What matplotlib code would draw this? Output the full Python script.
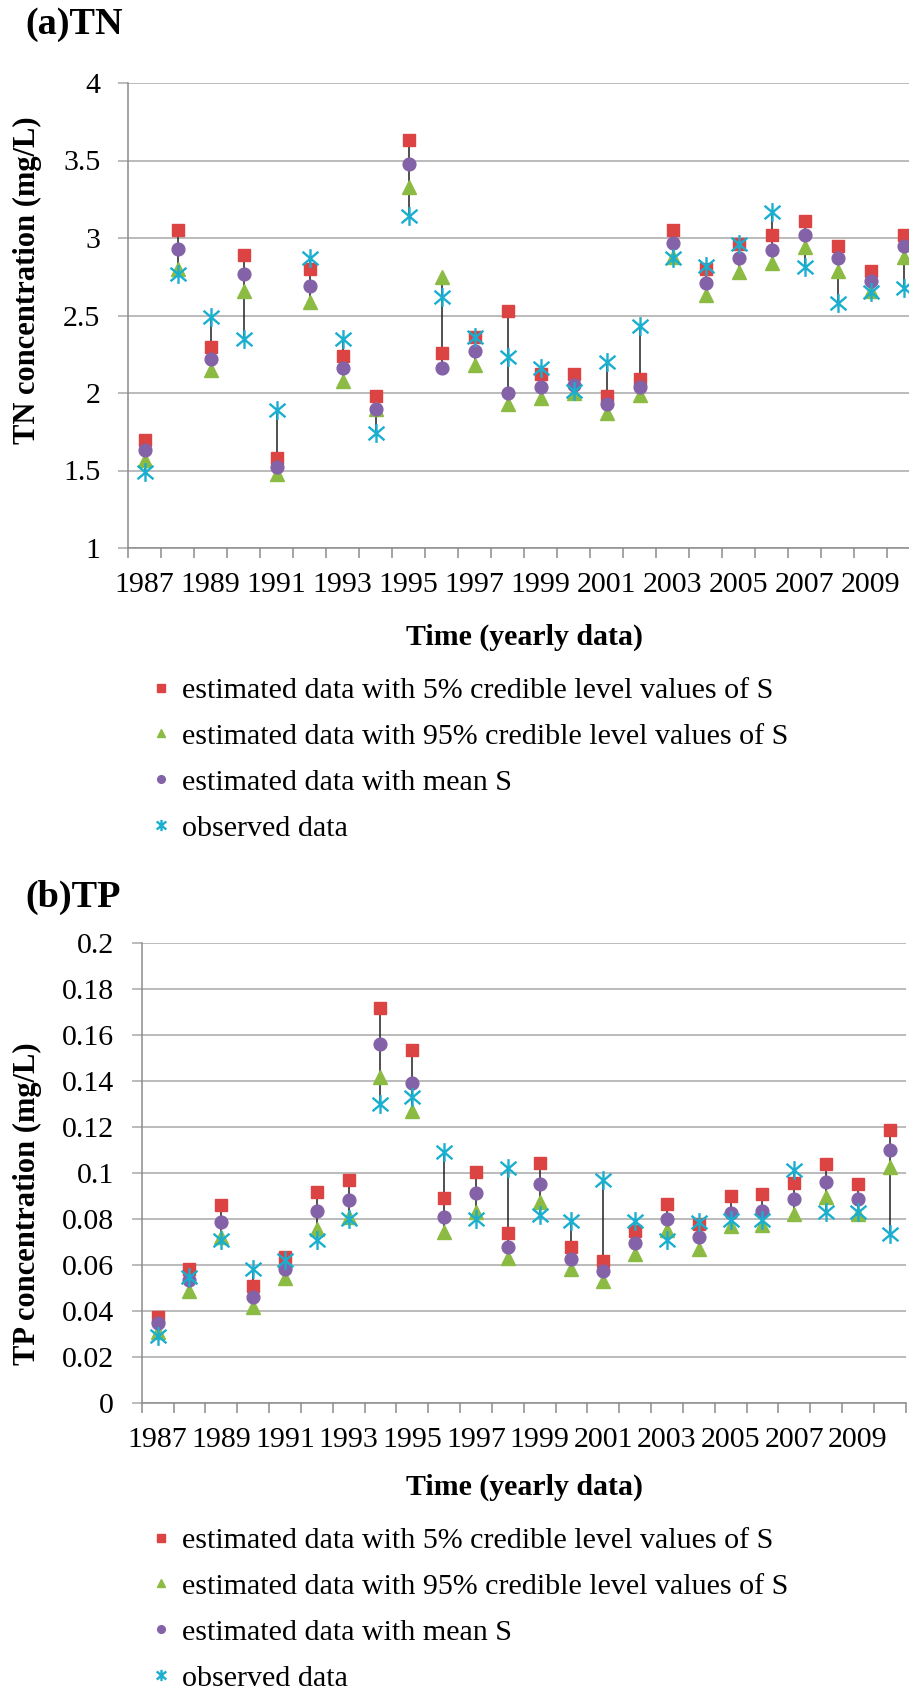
# TN / TP estimated vs observed yearly concentrations, two stacked panels

import matplotlib
matplotlib.use('Agg')
import matplotlib.pyplot as plt
import numpy as np
from matplotlib.path import Path

plt.rcParams['font.family'] = ['Liberation Serif', 'DejaVu Serif']

years = list(range(1987, 2011))
year_labels = [str(y) if (y - 1987) % 2 == 0 else '' for y in years]

series_names = ['estimated data with 5% credible level values of S',
                'estimated data with 95% credible level values of S',
                'estimated data with mean S',
                'observed data']

tn_5 = [1.70, 3.05, 2.30, 2.89, 1.58, 2.80, 2.24, 1.98, 3.63, 2.26, 2.36, 2.53,
        2.12, 2.12, 1.98, 2.09, 3.05, 2.80, 2.96, 3.02, 3.11, 2.95, 2.79, 3.02]
tn_95 = [1.57, 2.80, 2.15, 2.66, 1.48, 2.59, 2.08, 1.90, 3.33, 2.75, 2.18, 1.93,
         1.97, 2.00, 1.87, 1.99, 2.88, 2.63, 2.78, 2.84, 2.94, 2.79, 2.66, 2.88]
tn_mean = [1.63, 2.93, 2.22, 2.77, 1.52, 2.69, 2.16, 1.90, 3.48, 2.16, 2.27, 2.00,
           2.04, 2.05, 1.93, 2.04, 2.97, 2.71, 2.87, 2.92, 3.02, 2.87, 2.72, 2.95]
tn_obs = [1.49, 2.77, 2.49, 2.35, 1.89, 2.87, 2.35, 1.74, 3.14, 2.62, 2.36, 2.23,
          2.16, 2.01, 2.20, 2.43, 2.87, 2.82, 2.96, 3.17, 2.81, 2.58, 2.65, 2.68]

tp_5 = [0.0376, 0.0585, 0.0860, 0.0509, 0.0636, 0.0918, 0.0971, 0.1718, 0.1536, 0.0892,
        0.1004, 0.0740, 0.1043, 0.0679, 0.0618, 0.0747, 0.0864, 0.0780, 0.0900, 0.0910,
        0.0957, 0.1038, 0.0954, 0.1185]
tp_95 = [0.0310, 0.0488, 0.0720, 0.0419, 0.0542, 0.0759, 0.0810, 0.1417, 0.1268, 0.0744,
         0.0830, 0.0629, 0.0874, 0.0582, 0.0532, 0.0647, 0.0751, 0.0668, 0.0769, 0.0773,
         0.0821, 0.0896, 0.0824, 0.1028]
tp_mean = [0.0347, 0.0535, 0.0788, 0.0462, 0.0581, 0.0835, 0.0884, 0.1562, 0.1392, 0.0809,
           0.0913, 0.0679, 0.0951, 0.0626, 0.0574, 0.0694, 0.0800, 0.0720, 0.0827, 0.0835,
           0.0886, 0.0961, 0.0886, 0.1100]
tp_obs = [0.0292, 0.0549, 0.0708, 0.0582, 0.0621, 0.0708, 0.0802, 0.1300, 0.1332, 0.1090,
          0.0802, 0.1023, 0.0816, 0.0790, 0.0971, 0.0792, 0.0708, 0.0788, 0.0795, 0.0795,
          0.1012, 0.0831, 0.0831, 0.0734]

colors = ['#DC4343', '#8CBB44', '#8462A8', '#1AAECF']
grid_col = '#A8A8A8'

# excel style asterisk: an X with a vertical bar through it
star = Path([(0, -1), (0, 1), (-0.85, -0.72), (0.85, 0.72), (-0.85, 0.72), (0.85, -0.72)],
            [Path.MOVETO, Path.LINETO, Path.MOVETO, Path.LINETO, Path.MOVETO, Path.LINETO])

W, H = 909, 1697
fig = plt.figure(figsize=(W / 100, H / 100), dpi=100)


def panel(rect, data, ylim, yticks, ylabels, title, ylab, title_y, ylab_y, tick_y, xlab_y, leg_y):
	left, top, right, bottom = rect
	ax = fig.add_axes([left / W, 1 - bottom / H, (right - left) / W, (bottom - top) / H])
	x = np.arange(len(years))
	arr = np.array(data)
	# high-low lines between the extreme values of each year
	ax.vlines(x, arr.min(axis=0), arr.max(axis=0), color='#202020', lw=1.1, zorder=2)

	handles = []
	h, = ax.plot(x, data[0], ls='none', marker='s', ms=8.8, mfc=colors[0], mec=colors[0], zorder=3)
	handles.append(h)
	h, = ax.plot(x, data[1], ls='none', marker='^', ms=9.4, mfc=colors[1], mec=colors[1], zorder=3)
	handles.append(h)
	h, = ax.plot(x, data[2], ls='none', marker='o', ms=9.2, mfc=colors[2], mec=colors[2], zorder=3)
	handles.append(h)
	h, = ax.plot(x, data[3], ls='none', marker=star, ms=13.5, mfc='none', mec=colors[3], mew=1.7, zorder=4)
	handles.append(h)

	ax.set_xlim(-0.5, len(years) - 0.5)
	ax.set_ylim(*ylim)
	ax.set_yticks(yticks)
	ax.set_yticklabels(ylabels, fontsize=21.5)
	ax.set_xticks(x)
	ax.set_xticklabels(year_labels, fontsize=21.5)
	ax.set_xticks(np.arange(-0.5, len(years)), minor=True)
	ax.tick_params(axis='x', which='major', length=0, pad=tick_y)
	ax.tick_params(axis='x', which='minor', length=7, width=1.1, color='#8C8C8C', direction='out')
	ax.tick_params(axis='y', length=7, width=1.1, color=grid_col, pad=13)
	ax.yaxis.grid(True, color=grid_col, lw=1.1)
	ax.set_axisbelow(True)
	for s in ['top', 'right']:
		ax.spines[s].set_visible(False)
	for s in ['left', 'bottom']:
		ax.spines[s].set_color('#8C8C8C')
		ax.spines[s].set_linewidth(1.1)

	fig.text(25 / W, 1 - title_y / H, title, fontsize=27.5, fontweight='bold', va='center', ha='left')
	fig.text(27 / W, 1 - ylab_y / H, ylab, fontsize=22, fontweight='bold', rotation=90,
	         va='center', ha='center')
	fig.text(524 / W, 1 - xlab_y / H, 'Time (yearly data)', fontsize=21.5, fontweight='bold',
	         va='center', ha='center')

	fig.legend(handles, series_names, loc='upper left', bbox_to_anchor=(150 / W, 1 - leg_y / H),
	           frameon=False, fontsize=21.6, markerscale=0.6, handlelength=0.7,
	           handletextpad=0.35, labelspacing=0.63, borderpad=0, borderaxespad=0)
	return ax


panel((128, 83, 920, 548), [tn_5, tn_95, tn_mean, tn_obs], (1, 4),
      [1, 1.5, 2, 2.5, 3, 3.5, 4], ['1', '1.5', '2', '2.5', '3', '3.5', '4'],
      '(a)TN', 'TN concentration (mg/L)', 25, 280, 17, 637, 677)

panel((141.7, 942.7, 905.7, 1403.3), [tp_5, tp_95, tp_mean, tp_obs], (0, 0.2),
      np.arange(0, 0.201, 0.02),
      ['0', '0.02', '0.04', '0.06', '0.08', '0.1', '0.12', '0.14', '0.16', '0.18', '0.2'],
      '(b)TP', 'TP concentration (mg/L)', 897, 1204, 17, 1487, 1527)

plt.savefig('out.png', dpi=100)
plt.close()
